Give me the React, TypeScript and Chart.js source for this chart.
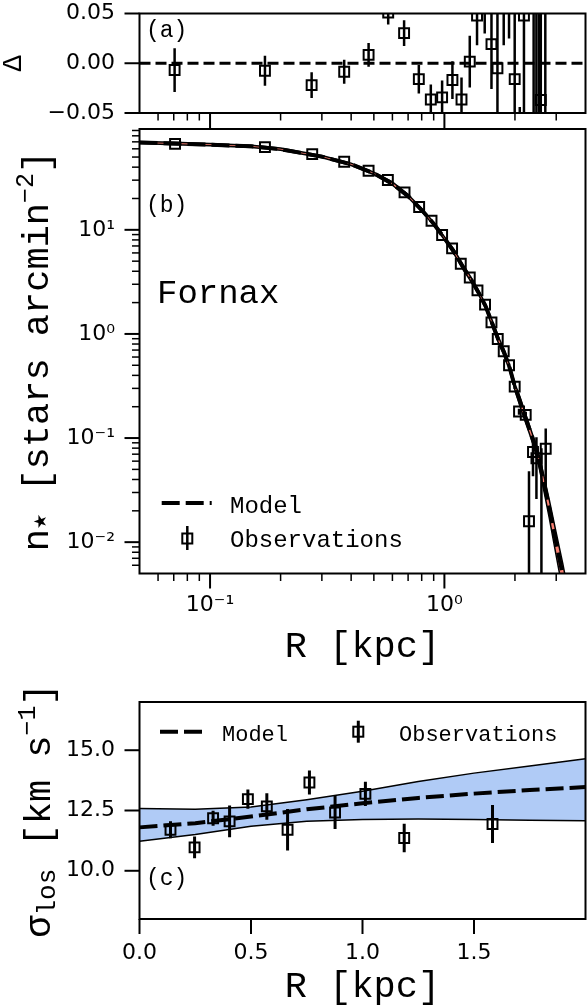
import React, { useEffect, useRef } from 'react';
import { Chart, registerables } from 'chart.js';

Chart.register(...registerables);

const W = 587;
const H = 1006;
const MONO = '"Liberation Mono", "DejaVu Sans Mono", monospace';
const SANS = '"DejaVu Sans", sans-serif';

// ---------- Panel (b): stellar surface density ----------
const obsR = [0.0709, 0.1715, 0.2729, 0.3736, 0.4748, 0.5738, 0.6759, 0.7802, 0.8811, 0.9777, 1.0784, 1.1746, 1.283, 1.384, 1.491, 1.588, 1.689, 1.791, 1.887, 1.995, 2.082, 2.223, 2.296, 2.388, 2.47, 2.594, 2.706];
const obsN = [67.0, 62.3, 53.4, 45.0, 36.9, 30.1, 22.9, 16.55, 12.23, 8.91, 6.63, 4.73, 3.49, 2.62, 1.911, 1.292, 0.895, 0.681, 0.4996, 0.312, 0.1796, 0.167, 0.0159, 0.0735, 0.064, 0.003, 0.0789];
const obsErr = [0.6, 0.5, 0.45, 0.4, 0.35, 0.3, 0.28, 0.22, 0.18, 0.14, 0.11, 0.09, 0.07, 0.055, 0.045, 0.035, 0.03, 0.025, 0.02, 0.016, 0.012, 0.012, 0.032, 0.0305, 0.038, 0.077, 0.0444];

const modelR = [0.05, 0.07, 0.1, 0.15, 0.2, 0.3, 0.4, 0.5, 0.6, 0.7, 0.8, 0.9, 1.0, 1.1, 1.2, 1.3, 1.4, 1.5, 1.6, 1.7, 1.8, 1.9, 2.0, 2.1, 2.2, 2.3, 2.4, 2.5, 2.6, 2.8, 3.0, 3.2, 3.4];
const modelN = [69, 67.5, 65.8, 63.4, 59.5, 50.5, 42.6, 34.9, 27.8, 21.1, 15.5, 11.44, 8.32, 6.14, 4.4, 3.33, 2.49, 1.84, 1.26, 0.88, 0.66, 0.47, 0.31, 0.226, 0.165, 0.124, 0.093, 0.07, 0.047, 0.0215, 0.0098, 0.0048, 0.0024];
const modelHi = [70.7, 69.2, 67.4, 65.0, 61.0, 51.8, 43.7, 35.8, 28.8, 21.8, 16.0, 11.84, 8.61, 6.45, 4.62, 3.5, 2.61, 1.93, 1.35, 0.94, 0.706, 0.503, 0.332, 0.249, 0.182, 0.136, 0.102, 0.08, 0.054, 0.0258, 0.0123, 0.0062, 0.0031];
const modelLo = [67.3, 65.8, 64.2, 61.8, 58.0, 49.2, 41.5, 34.0, 26.8, 20.4, 15.0, 11.04, 8.03, 5.83, 4.18, 3.16, 2.37, 1.75, 1.17, 0.82, 0.614, 0.437, 0.288, 0.203, 0.149, 0.112, 0.084, 0.06, 0.04, 0.0172, 0.0074, 0.0034, 0.0017];

const rTicks = [0.1, 1];
const rTickLabels = ['10⁻¹', '10⁰'];
const rMinor = [0.06, 0.07, 0.08, 0.09, 0.2, 0.3, 0.4, 0.5, 0.6, 0.7, 0.8, 0.9, 2, 3];
const nTicks = [0.01, 0.1, 1, 10];
const nTickLabels = ['10⁻²', '10⁻¹', '10⁰', '10¹'];
const nMinor = [0.006, 0.007, 0.008, 0.009, 0.02, 0.03, 0.04, 0.05, 0.06, 0.07, 0.08, 0.09, 0.2, 0.3, 0.4, 0.5, 0.6, 0.7, 0.8, 0.9, 2, 3, 4, 5, 6, 7, 8, 9, 20, 30, 40, 50, 60, 70, 80, 90];

// ---------- Panel (a): residuals ----------
const deltaR = [0.0706, 0.1715, 0.2713, 0.3736, 0.4748, 0.5757, 0.673, 0.7778, 0.875, 0.9777, 1.082, 1.183, 1.283, 1.378, 1.486, 1.588, 1.684, 1.791, 1.887, 1.995, 2.097, 2.185, 2.403, 2.469, 2.531, 2.578, 2.695];
const delta = [-0.0068, -0.0075, -0.022, -0.0085, 0.0084, 0.051, 0.0303, -0.016, -0.0364, -0.0343, -0.0169, -0.0364, 0.0016, 0.048, 0.075, 0.0192, -0.005, 0.065, 0.075, -0.016, -0.12, 0.048, -0.25, 0.3, -0.6, -0.037, 0.15];
const deltaErr = [0.022, 0.015, 0.013, 0.012, 0.012, 0.012, 0.013, 0.0143, 0.015, 0.017, 0.019, 0.022, 0.026, 0.03, 0.045, 0.045, 0.07, 0.047, 0.05, 0.09, 0.076, 0.12, 0.4, 0.5, 0.8, 1.0, 0.4];
const deltaTicks = [-0.05, 0, 0.05];

// ---------- Panel (c): velocity dispersion ----------
const dispR = [0.139, 0.247, 0.33, 0.404, 0.486, 0.571, 0.664, 0.762, 0.877, 1.013, 1.187, 1.583];
const dispS = [11.7, 10.97, 12.18, 12.05, 12.97, 12.67, 11.7, 13.66, 12.42, 13.19, 11.36, 11.94];
const dispErr = [0.35, 0.45, 0.31, 0.66, 0.4, 0.55, 0.86, 0.5, 0.69, 0.5, 0.59, 0.79];
const modelDispR = [0, 0.25, 0.5, 0.75, 1.0, 1.25, 1.5, 1.75, 2.0];
const modelDisp = [11.8, 11.97, 12.25, 12.55, 12.8, 13.02, 13.2, 13.35, 13.47];
const modelDispHi = [12.58, 12.55, 12.65, 12.95, 13.3, 13.7, 14.05, 14.35, 14.65];
const modelDispLo = [11.22, 11.5, 11.85, 12.05, 12.13, 12.15, 12.13, 12.1, 12.07];
const dispXTicks = [0, 0.5, 1.0, 1.5];
const dispYTicks = [10, 12.5, 15];

// ---------- helpers ----------
const pts = (xs: number[], ys: number[]) => xs.map((x, i) => ({ x, y: ys[i] }));

type Seg = { t: string; size: number; font?: string; dy?: number };

function drawRich(ctx: CanvasRenderingContext2D, segs: Seg[], x: number, y: number, rot: number, align: 'left' | 'center') {
  ctx.save();
  ctx.translate(x, y);
  ctx.rotate(rot);
  ctx.textBaseline = 'alphabetic';
  ctx.textAlign = 'left';
  ctx.fillStyle = '#000';
  let total = 0;
  const widths = segs.map((s) => {
    ctx.font = `${s.size}px ${s.font || MONO}`;
    const w = ctx.measureText(s.t).width;
    total += w;
    return w;
  });
  let cx = align === 'center' ? -total / 2 : 0;
  segs.forEach((s, i) => {
    ctx.font = `${s.size}px ${s.font || MONO}`;
    ctx.fillText(s.t, cx, s.dy || 0);
    cx += widths[i];
  });
  ctx.restore();
}

const frameTicks = (spec: { xMajor?: number[]; xMinor?: number[]; yMajor?: number[]; yMinor?: number[] }) => ({
  id: 'frameTicks',
  afterDraw(chart: any) {
    const { ctx, chartArea: a, scales } = chart;
    ctx.save();
    ctx.strokeStyle = '#000';
    ctx.setLineDash([]);
    ctx.lineCap = 'butt';
    const drawX = (vals: number[], len: number, lw: number) => {
      ctx.lineWidth = lw;
      vals.forEach((v) => {
        const p = scales.x.getPixelForValue(v);
        ctx.beginPath();
        ctx.moveTo(p, a.bottom);
        ctx.lineTo(p, a.bottom + len);
        ctx.stroke();
      });
    };
    const drawY = (vals: number[], len: number, lw: number) => {
      ctx.lineWidth = lw;
      vals.forEach((v) => {
        const p = scales.y.getPixelForValue(v);
        ctx.beginPath();
        ctx.moveTo(a.left, p);
        ctx.lineTo(a.left - len, p);
        ctx.stroke();
      });
    };
    drawX(spec.xMajor || [], 15, 2);
    drawX(spec.xMinor || [], 7.5, 1.5);
    drawY(spec.yMajor || [], 15, 2);
    drawY(spec.yMinor || [], 7.5, 1.5);
    ctx.lineWidth = 2;
    ctx.strokeRect(a.left, a.top, a.right - a.left, a.bottom - a.top);
    ctx.restore();
  },
});

const errorBars = (xs: number[], ys: number[], es: number[], lw: number) => ({
  id: 'errorBars',
  afterDatasetsDraw(chart: any) {
    const { ctx, chartArea: a, scales } = chart;
    const xS = scales.x;
    const yS = scales.y;
    ctx.save();
    ctx.beginPath();
    ctx.rect(a.left, a.top, a.right - a.left, a.bottom - a.top);
    ctx.clip();
    ctx.strokeStyle = '#000';
    ctx.lineWidth = lw;
    ctx.setLineDash([]);
    xs.forEach((xv, i) => {
      const px = xS.getPixelForValue(xv);
      const lo = ys[i] - es[i];
      const hi = ys[i] + es[i];
      const pLo = yS.type === 'logarithmic' && lo <= 0 ? a.bottom + 10 : yS.getPixelForValue(lo);
      const pHi = yS.getPixelForValue(hi);
      ctx.beginPath();
      ctx.moveTo(px, pLo);
      ctx.lineTo(px, pHi);
      ctx.stroke();
    });
    ctx.restore();
  },
});

const texts = (draw: (ctx: CanvasRenderingContext2D) => void) => ({
  id: 'texts',
  afterDraw(chart: any) {
    const ctx = chart.ctx as CanvasRenderingContext2D;
    ctx.save();
    ctx.fillStyle = '#000';
    ctx.strokeStyle = '#000';
    draw(ctx);
    ctx.restore();
  },
});

const tickFont = { family: SANS, size: 22 };

// label offset handled by an (undrawn) tick length so that no extra layout padding is added
const gridWithGap = (gap: number) => ({
  grid: { display: false, drawTicks: true, tickLength: gap },
  border: { display: false },
});

const markerDs = (xs: number[], ys: number[]) => ({
  data: pts(xs, ys),
  showLine: false,
  pointStyle: 'rect',
  pointRadius: 7,
  pointBorderWidth: 2,
  pointBorderColor: '#000',
  pointBackgroundColor: 'rgba(0,0,0,0)',
  borderColor: '#000',
  backgroundColor: 'rgba(0,0,0,0)',
  clip: 0,
  order: 0,
});

const lineDs = (xs: number[], ys: number[], lw: number, dash: number[], order: number, extra: any = {}) => ({
  data: pts(xs, ys),
  showLine: true,
  borderColor: '#000',
  borderWidth: lw,
  borderDash: dash,
  pointRadius: 0,
  fill: false,
  clip: 0,
  order,
  ...extra,
});

const commonOpts = (padding: any) => ({
  responsive: false,
  animation: false,
  devicePixelRatio: 1,
  events: [],
  layout: { padding, autoPadding: false },
  plugins: { legend: { display: false }, tooltip: { enabled: false }, filler: { drawTime: 'beforeDatasetsDraw' } },
});

const yTickOpts = (cb: (v: number) => string) => ({
  font: tickFont, color: '#000', padding: 0, autoSkip: false, callback: cb,
});
const xTickOpts = (cb: (v: number) => string) => ({
  font: tickFont, color: '#000', padding: 0, autoSkip: false, maxRotation: 0, minRotation: 0, callback: cb,
});

function configA(): any {
  return {
    type: 'line',
    data: {
      datasets: [
        markerDs(deltaR, delta),
        lineDs([0.05, 4], [0, 0], 3, [11, 5], 1),
      ],
    },
    options: {
      ...commonOpts({ top: 13.5, bottom: H - 113 - 10, left: 0, right: 1.5 }),
      scales: {
        x: {
          type: 'logarithmic', min: 0.05, max: 4, ...gridWithGap(0),
          ticks: { display: false },
          afterFit: (s: any) => { s.height = 10; },
        },
        y: {
          type: 'linear', min: -0.05, max: 0.05, ...gridWithGap(24.5),
          afterBuildTicks: (s: any) => { s.ticks = deltaTicks.map((v) => ({ value: v })); },
          ticks: yTickOpts((v: number) => (v < 0 ? '−' : '') + Math.abs(v).toFixed(2)),
          afterFit: (s: any) => { s.width = 139.5; },
        },
      },
    },
    plugins: [
      errorBars(deltaR, delta, deltaErr, 2.5),
      frameTicks({ xMajor: rTicks, xMinor: rMinor, yMajor: deltaTicks }),
      texts((ctx) => {
        drawRich(ctx, [{ t: '(a)', size: 23 }], 146, 37, 0, 'left');
        drawRich(ctx, [{ t: 'Δ', size: 27 }], 21, 63.5, -Math.PI / 2, 'center');
      }),
    ],
  };
}

function configB(): any {
  return {
    type: 'line',
    data: {
      datasets: [
        lineDs(modelR, modelLo, 1.5, [], 3),
        lineDs(modelR, modelHi, 1.5, [], 2, { fill: '-1', backgroundColor: '#fa8072' }),
        lineDs(modelR, modelN, 4, [18, 6], 1),
        markerDs(obsR, obsN),
      ],
    },
    options: {
      ...commonOpts({ top: 129, bottom: H - 573.5 - 40, left: 0, right: 1.5 }),
      scales: {
        x: {
          type: 'logarithmic', min: 0.05, max: 4, ...gridWithGap(19),
          afterBuildTicks: (s: any) => { s.ticks = rTicks.map((v) => ({ value: v })); },
          ticks: xTickOpts((v: number) => rTickLabels[rTicks.indexOf(v)] ?? ''),
          afterFit: (s: any) => { s.height = 40; },
        },
        y: {
          type: 'logarithmic', min: 0.005, max: 93, ...gridWithGap(24.5),
          afterBuildTicks: (s: any) => { s.ticks = nTicks.map((v) => ({ value: v })); },
          ticks: yTickOpts((v: number) => nTickLabels[nTicks.indexOf(v)] ?? ''),
          afterFit: (s: any) => { s.width = 139.5; },
        },
      },
    },
    plugins: [
      errorBars(obsR, obsN, obsErr, 2.5),
      frameTicks({ xMajor: rTicks, xMinor: rMinor, yMajor: nTicks, yMinor: nMinor }),
      texts((ctx) => {
        drawRich(ctx, [{ t: '(b)', size: 23 }], 146, 212, 0, 'left');
        drawRich(ctx, [{ t: 'Fornax', size: 34 }], 157, 303, 0, 'left');
        // legend
        ctx.lineWidth = 4;
        ctx.setLineDash([18, 6]);
        ctx.beginPath();
        ctx.moveTo(161.7, 503);
        ctx.lineTo(211.7, 503);
        ctx.stroke();
        ctx.setLineDash([]);
        ctx.lineWidth = 2.5;
        ctx.beginPath();
        ctx.moveTo(187.3, 526);
        ctx.lineTo(187.3, 550);
        ctx.stroke();
        ctx.lineWidth = 2;
        ctx.strokeRect(182.3, 533.5, 10, 10);
        drawRich(ctx, [{ t: 'Model', size: 24 }], 230, 513, 0, 'left');
        drawRich(ctx, [{ t: 'Observations', size: 24 }], 230, 546.5, 0, 'left');
        // axis titles
        drawRich(ctx, [{ t: 'R [kpc]', size: 37 }], 362.5, 657, 0, 'center');
        drawRich(
          ctx,
          [
            { t: 'n', size: 37 },
            { t: '★', size: 17, font: SANS, dy: -2 },
            { t: ' [stars arcmin', size: 37 },
            { t: '−2', size: 25, dy: -15 },
            { t: ']', size: 37 },
          ],
          48, 351, -Math.PI / 2, 'center'
        );
      }),
    ],
  };
}

function configC(): any {
  return {
    type: 'line',
    data: {
      datasets: [
        lineDs(modelDispR, modelDispLo, 1.5, [], 3),
        lineDs(modelDispR, modelDispHi, 1.5, [], 2, { fill: '-1', backgroundColor: '#b0cbf6' }),
        lineDs(modelDispR, modelDisp, 4, [18, 6], 1),
        markerDs(dispR, dispS),
      ],
    },
    options: {
      ...commonOpts({ top: 702, bottom: H - 919 - 40, left: 0, right: 1.5 }),
      scales: {
        x: {
          type: 'linear', min: 0, max: 2, ...gridWithGap(21),
          afterBuildTicks: (s: any) => { s.ticks = dispXTicks.map((v) => ({ value: v })); },
          ticks: xTickOpts((v: number) => v.toFixed(1)),
          afterFit: (s: any) => { s.height = 40; },
        },
        y: {
          type: 'linear', min: 8, max: 17, ...gridWithGap(24.5),
          afterBuildTicks: (s: any) => { s.ticks = dispYTicks.map((v) => ({ value: v })); },
          ticks: yTickOpts((v: number) => v.toFixed(1)),
          afterFit: (s: any) => { s.width = 139.5; },
        },
      },
    },
    plugins: [
      errorBars(dispR, dispS, dispErr, 3),
      frameTicks({ xMajor: dispXTicks, yMajor: dispYTicks }),
      texts((ctx) => {
        drawRich(ctx, [{ t: '(c)', size: 23 }], 146, 885, 0, 'left');
        ctx.lineWidth = 4;
        ctx.setLineDash([18, 6]);
        ctx.beginPath();
        ctx.moveTo(160, 731.7);
        ctx.lineTo(203, 731.7);
        ctx.stroke();
        ctx.setLineDash([]);
        ctx.lineWidth = 3;
        ctx.beginPath();
        ctx.moveTo(358.3, 720.7);
        ctx.lineTo(358.3, 742.7);
        ctx.stroke();
        ctx.lineWidth = 2;
        ctx.strokeRect(353.3, 726.7, 10, 10);
        drawRich(ctx, [{ t: 'Model', size: 22 }], 222, 740.5, 0, 'left');
        drawRich(ctx, [{ t: 'Observations', size: 22 }], 399, 740.5, 0, 'left');
        drawRich(ctx, [{ t: 'R [kpc]', size: 37 }], 362.5, 996.5, 0, 'center');
        drawRich(
          ctx,
          [
            { t: 'σ', size: 37 },
            { t: 'los', size: 26, dy: 5 },
            { t: ' [km s', size: 37 },
            { t: '−1', size: 25, dy: -15 },
            { t: ']', size: 37 },
          ],
          50, 810.5, -Math.PI / 2, 'center'
        );
      }),
    ],
  };
}

export default function App() {
  const ra = useRef<HTMLCanvasElement>(null);
  const rb = useRef<HTMLCanvasElement>(null);
  const rc = useRef<HTMLCanvasElement>(null);

  useEffect(() => {
    const charts = [
      new Chart(ra.current as HTMLCanvasElement, configA()),
      new Chart(rb.current as HTMLCanvasElement, configB()),
      new Chart(rc.current as HTMLCanvasElement, configC()),
    ];
    return () => charts.forEach((c) => c.destroy());
  }, []);

  const st: React.CSSProperties = { position: 'absolute', left: 0, top: 0, width: W, height: H };
  return (
    <div style={{ position: 'absolute', left: 0, top: 0, width: W, height: H, background: '#fff', overflow: 'hidden' }}>
      <canvas ref={ra} width={W} height={H} style={st} />
      <canvas ref={rb} width={W} height={H} style={st} />
      <canvas ref={rc} width={W} height={H} style={st} />
    </div>
  );
}
